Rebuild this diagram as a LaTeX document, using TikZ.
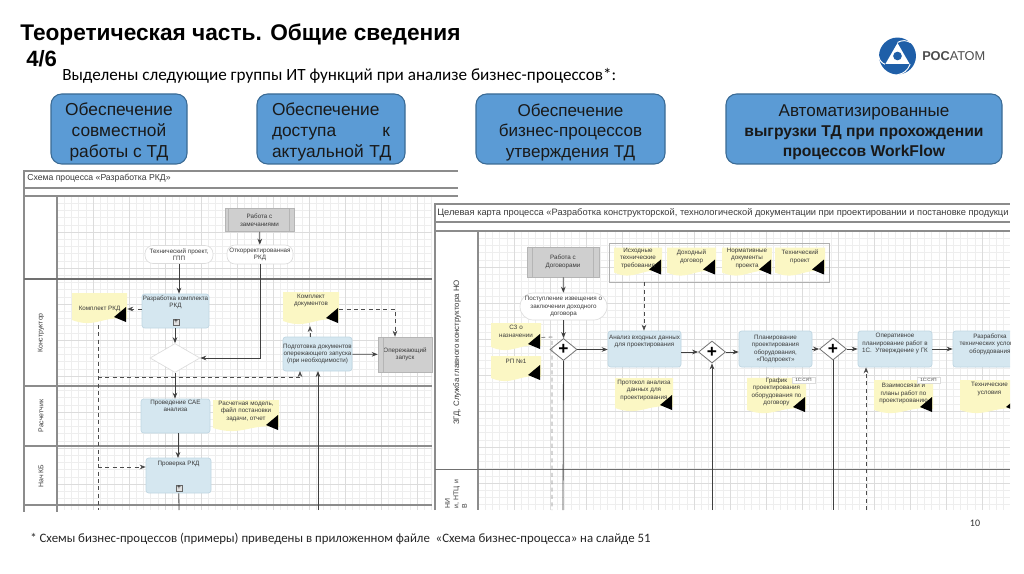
\documentclass[tikz,border=0pt]{standalone}
\usepackage{fontspec}
\setmainfont{Liberation Sans}
\newfontfamily\carlito{Carlito}
\usetikzlibrary{arrows.meta,positioning,shapes.geometric,fit,calc}
\definecolor{rosblue}{HTML}{5B9BD5}
\definecolor{rosedge}{HTML}{3A6A94}
\definecolor{taskfill}{HTML}{D5E7F0}
\definecolor{taskedge}{HTML}{BFD6E2}
\definecolor{docfill}{HTML}{FBF7C4}
\definecolor{cardfill}{HTML}{CFCFCF}
\definecolor{cardedge}{HTML}{B5B5B5}
\definecolor{gridlo}{HTML}{EEEEEE}
\definecolor{gridhi}{HTML}{DCDCDC}
\definecolor{lanegrey}{HTML}{8C8C8C}
\definecolor{inkgrey}{HTML}{3A3A3A}
\definecolor{logoblue}{HTML}{1F5FA8}
\tikzset{
  >={Stealth[length=4.5pt,width=3.5pt]},
  wh/.style 2 args={minimum width=#1*0.75pt,minimum height=#2*0.75pt},
  tiny/.style={font=\fontsize{4.7}{5.6}\selectfont,text=inkgrey,inner sep=0pt,align=center},
  groupbox/.style={draw=rosedge,line width=0.8pt,rounded corners=8pt,fill=rosblue,
                   inner sep=0pt,align=center,font=\fontsize{12.8}{15.4}\selectfont,text=black!90},
  task/.style={tiny,draw=taskedge,line width=0.5pt,rounded corners=2pt,fill=taskfill},
  card/.style={tiny,draw=cardedge,fill=cardfill},
  event/.style={tiny,draw=gridhi,line width=0.5pt,rounded corners=6pt,fill=white},
  docnode/.style={tiny,path picture={
      \fill[docfill] (path picture bounding box.north west) -- (path picture bounding box.north east)
        -- ($(path picture bounding box.south east)+(0,-6)$)
        .. controls ($(path picture bounding box.south)+(4,-10)$) and ($(path picture bounding box.south)+(-4,4)$)
        .. ($(path picture bounding box.south west)+(0,-5)$) -- cycle;
      \fill[black] ($(path picture bounding box.south east)+(-1,-18)$) -- ($(path picture bounding box.south east)+(-1,-3)$)
        -- ($(path picture bounding box.south east)+(-13,-8)$) -- cycle;}},
  gate/.style={draw=black!55,line width=0.6pt,diamond,aspect=1.25,fill=white,inner sep=0pt,wh={27}{22}},
  plus/.style={draw=black!60,line width=0.4pt,fill=black!12,inner sep=0pt,minimum size=4.5pt,
               font=\fontsize{5}{5}\selectfont},
  tag/.style={tiny,draw=gridhi,fill=white,font=\fontsize{3.4}{4}\selectfont},
  flow/.style={->,line width=0.6pt,draw=black!75},
  dashflow/.style={->,line width=0.6pt,draw=black!70,dashed,dash pattern=on 3pt off 2.5pt},
  lane/.style={draw=lanegrey,line width=0.8pt},
  lanelbl/.style={tiny,rotate=90,font=\fontsize{5.2}{6.4}\selectfont},
}

\begin{document}
\begin{tikzpicture}[x=0.75pt,y=-0.75pt]
  \useasboundingbox (0,0) rectangle (1024,574);

  % heading
  \node[anchor=west,inner sep=0pt,font=\bfseries\fontsize{17}{20}\selectfont] (title) at (20,35) {Теоретическая часть. Общие сведения};
  \node[anchor=west,inner sep=0pt,font=\bfseries\fontsize{16.6}{20}\selectfont] (part) at (26,59) {4/6};
  \node[anchor=west,inner sep=0pt,font=\carlito\fontsize{12.85}{15}\selectfont] (lead) at (62,76) {Выделены следующие группы ИТ функций при анализе бизнес-процессов*:};

  % logo
  \node[circle,fill=logoblue,minimum size=27.7pt,inner sep=0pt] (logo) at (897.5,56) {};
  \node[regular polygon,regular polygon sides=3,fill=white,minimum size=21pt,inner sep=0pt] (logotri) at (897.5,57) {};
  \node[circle,fill=logoblue,minimum size=6.5pt,inner sep=0pt] (logodot) at (897.5,56) {};
  \draw[white,line width=0.7pt] (logotri.corner 1) to[bend left=30] (logo.north east);
  \draw[white,line width=0.7pt] (logotri.corner 2) to[bend left=30] (logo.west);
  \draw[white,line width=0.7pt] (logotri.corner 3) to[bend left=30] (logo.south);
  \node[anchor=west,inner sep=0pt,text=black!70,font=\fontsize{9.6}{12}\selectfont] (logotxt) at (922,56) {\textbf{РОС}АТОМ};

  % blue groups
  \node[groupbox,wh={136}{70},font=\fontsize{13}{15.6}\selectfont] (grpa) at (119,129) {\rule{0pt}{14pt}Обеспечение\\совместной\\работы с ТД};
  \node[groupbox,wh={148}{70},font=\fontsize{13}{15.6}\selectfont,text width=88.5pt,align=left] (grpb) at (331,129) {\rule{0pt}{14pt}Обеспечение\\\makebox[88.5pt]{доступа\hfill к}\\\mbox{актуальной ТД}};
  \node[groupbox,wh={189}{70}] (grpc) at (570.5,129) {\rule{0pt}{14pt}Обеспечение\\бизнес-процессов\\утверждения ТД};
  \node[groupbox,wh={276}{70}] (grpd) at (864,129) {\rule{0pt}{14pt}Автоматизированные\\[-0.5pt]\fontsize{11.75}{14.4}\selectfont\textbf{выгрузки ТД при прохождении}\\\fontsize{11.75}{14.4}\selectfont\textbf{процессов WorkFlow}};

  % left chart
  \begin{scope}
    \clip (25,196) rectangle (432,510);
    \foreach \gx in {57,64.2,...,458} \draw[gridlo,line width=0.4pt] (\gx,196) -- (\gx,510);
    \foreach \gy in {196,203.2,...,510} \draw[gridlo,line width=0.4pt] (57,\gy) -- (458,\gy);
    \foreach \gx in {57,93,...,458} \draw[gridhi,line width=0.5pt] (\gx,196) -- (\gx,510);
    \foreach \gy in {196,232,...,510} \draw[gridhi,line width=0.5pt] (57,\gy) -- (458,\gy);
  \end{scope}
  \draw[lanegrey,line width=0.8pt] (24,188) -- (24,171) -- (458,171);
  \draw[lane] (24,188) -- (458,188);
  \draw[lane] (24,196) -- (458,196);
  \draw[lane] (24,188) -- (24,512);
  \draw[lane] (57,196) -- (57,512);
  \draw[lanegrey!80!black,line width=1pt] (24,279) -- (432,279);
  \draw[lane] (24,386) -- (432,386);
  \draw[lane] (24,446) -- (432,446);
  \draw[lane] (24,505) -- (432,505);
  \node[anchor=west,tiny,font=\fontsize{6.5}{8}\selectfont] (lefthead) at (27,178) {Схема процесса «Разработка РКД»};
  \node[lanelbl] (lbcon) at (41,333) {Конструктор};
  \node[lanelbl] (lbras) at (41,416) {Расчетчик};
  \node[lanelbl] (lbnach) at (41,476) {Нач КБ};

  \node[card,wh={69}{23}] (remarks) at (259.5,220) {Работа с\\замечаниями};
  \node[event,wh={66}{19}] (fixed) at (260,254.5) {Откорректированная\\РКД};
  \node[event,wh={68}{18}] (project) at (179,254.5) {Технический проект,\\ГПП};
  \node[docnode,wh={55}{32}] (kitdoc) at (99.5,309) {Комплект РКД};
  \node[task,wh={67}{34}] (develop) at (175.5,311) {Разработка комплекта\\РКД\\[8pt]\ };
  \node[plus] (plusa) at (176,322) {+};
  \node[draw=gridhi,line width=0.5pt,diamond,aspect=1.7,fill=white,inner sep=0pt,wh={50}{29}] (choice) at (175,358) {};
  \node[task,wh={69}{34}] (cae) at (175.5,416) {Проведение САЕ\\анализа\\[10pt]\ };
  \node[docnode,wh={66}{33}] (calcdoc) at (246,416.5) {Расчетная модель,\\файл постановки\\задачи, отчет\\[3pt]\ };
  \node[task,wh={65}{35}] (check) at (178.5,475.5) {Проверка РКД\\[13pt]\ };
  \node[plus] (plusb) at (179,488) {+};
  \node[docnode,wh={56}{34}] (packdoc) at (311,309) {Комплект\\документов\\[8pt]\ };
  \node[task,wh={69}{34}] (prepare) at (317.5,354) {Подготовка документов\\опережающего запуска\\(при необходимости)};
  \node[card,wh={54}{35}] (launch) at (405,354.5) {Опережающий\\запуск};
  \draw[cardedge,line width=0.6pt] (remarks.north west)+(4,0) -- ($(remarks.south west)+(4,0)$);
  \draw[cardedge,line width=0.6pt] (remarks.north east)+(-5,0) -- ($(remarks.south east)+(-5,0)$);
  \draw[cardedge,line width=0.6pt] (launch.north west)+(6,0) -- ($(launch.south west)+(6,0)$);

  \coordinate (bot1) at (98,510);
  \coordinate (bot2) at (179,510);
  \coordinate (bot3) at (318,510);
  \coordinate (dash1) at (98,377);
  \coordinate (dash2) at (98,467);
  \draw[flow] (remarks) -- (fixed);
  \draw[flow] (fixed) |- (choice);
  \draw[flow] (project) -- (project|-develop.north);
  \draw[dashflow] (develop.west|-kitdoc) -- (kitdoc);
  \draw[flow] (develop.south-|choice) -- (choice);
  \draw[flow] (choice) -- (choice|-cae.north);
  \draw[flow] (178,433) -- (178,458);
  \draw[flow,-] (check) -- (bot2);
  \draw[dashflow,-] (98,325) -- (bot1);
  \draw[dashflow] (dash1) -| (300,371);
  \draw[dashflow] (dash2) -- (check.west|-dash2);
  \draw[flow] (bot3) -- (318,371);
  \draw[dashflow] (310,337) -- (310,326);
  \draw[flow] (prepare) -- (launch);
  \draw[dashflow] (packdoc.east) -| (launch.north-|395,0);

  % right chart on top of the left one
  \fill[white] (435,204) rectangle (1010,514);
  \begin{scope}
    \clip (478,231) rectangle (1010,510);
    \foreach \gx in {478,485.2,...,1010} \draw[gridlo,line width=0.4pt] (\gx,231) -- (\gx,510);
    \foreach \gy in {231,238.2,...,510} \draw[gridlo,line width=0.4pt] (478,\gy) -- (1010,\gy);
    \foreach \gx in {478,514,...,1010} \draw[gridhi,line width=0.5pt] (\gx,231) -- (\gx,510);
    \foreach \gy in {231,267,...,510} \draw[gridhi,line width=0.5pt] (478,\gy) -- (1010,\gy);
  \end{scope}
  \draw[lane] (435,510) -- (435,204) -- (1010,204);
  \draw[lane] (435,222) -- (1010,222);
  \draw[lane] (435,231) -- (1010,231);
  \draw[lane] (478,231) -- (478,510);
  \draw[lanegrey!80!black,line width=0.7pt] (435,469) -- (1010,469);
  \node[anchor=west,tiny,font=\fontsize{6.98}{9}\selectfont] (righthead) at (437,213) {Целевая карта процесса «Разработка конструкторской, технологической документации при проектировании и постановке продукци};
  \node[lanelbl,font=\fontsize{5.9}{7}\selectfont] (lbzgd) at (457,352.5) {ЗГД, Служба главного конструктора НО};
  \node[lanelbl,anchor=west,text width=32pt,align=left] (lbniu) at (456,509) {НИ\\и, НТЦ и\\В};

  \node[card,wh={72}{30}] (contracts) at (563,262) {Работа с\\Договорами};
  \draw[cardedge,line width=0.6pt] (contracts.north west)+(6,0) -- ($(contracts.south west)+(6,0)$);
  \draw[cardedge,line width=0.6pt] (contracts.north east)+(-6,0) -- ($(contracts.south east)+(-6,0)$);
  \node[event,wh={87}{27},rounded corners=10pt] (notice) at (563.5,306.5) {Поступление извещения о\\заключении доходного\\договора};
  \node[gate] (gatea) at (563.5,349.5) {};
  \node[font=\bfseries\fontsize{13}{13}\selectfont,inner sep=0pt] (pluse) at (gatea) {+};
  \node[docnode,wh={50}{29}] (memo) at (516,337.5) {СЗ о\\назначении\\[4pt]\ };
  \node[docnode,wh={50}{27}] (rpdoc) at (516,369.5) {РП №1\\[6pt]\ };
  \node[docnode,wh={48}{30}] (reqdoc) at (638,262.5) {Исходные\\технические\\требования\\[2pt]\ };
  \node[docnode,wh={49}{30}] (incdoc) at (691.5,262.5) {Доходный\\договор\\[4pt]\ };
  \node[docnode,wh={50}{30}] (normdoc) at (747,262.5) {Нормативные\\документы\\проекта\\[2pt]\ };
  \node[docnode,wh={50}{30}] (techdoc) at (800,262.5) {Технический\\проект\\[4pt]\ };
  \node[draw=gridhi!80!black,line width=0.6pt,inner sep=3.2pt,fit=(reqdoc)(techdoc)] (inputs) {};
  \node[task,wh={73}{36}] (analyse) at (644.5,349) {Анализ входных данных\\для проектирования\\[7pt]\ };
  \node[gate] (gateb) at (712,352) {};
  \node[font=\bfseries\fontsize{13}{13}\selectfont,inner sep=0pt] (plusf) at (gateb) {+};
  \node[docnode,wh={58}{35}] (protocol) at (644,395.5) {Протокол анализа\\данных для\\проектирования\\[3pt]\ };
  \node[task,wh={73}{36}] (plan) at (775.5,349) {Планирование\\проектирования\\оборудования,\\«Подпроект»};
  \node[docnode,wh={59}{37}] (schedule) at (776.5,396.5) {График\\проектирования\\оборудования по\\договору\\[2pt]\ };
  \node[tag,wh={23}{6}] (taga) at (803.5,380) {1С:СУП};
  \node[gate] (gatec) at (833,349) {};
  \node[font=\bfseries\fontsize{13}{13}\selectfont,inner sep=0pt] (plusg) at (gatec) {+};
  \node[task,wh={74}{36}] (oper) at (895,349) {Оперативное\\планирование работ в\\1С.\ \ Утверждение у ГК\\[3pt]\ };
  \node[docnode,wh={59}{35}] (links) at (903.5,397.5) {Взаимосвязи и\\планы работ по\\проектированию\\[1pt]\ };
  \node[tag,wh={23}{6}] (tagb) at (928.5,380) {1С:СУП};
  \begin{scope}
    \clip (940,320) rectangle (1010,420);
    \node[task,wh={74}{36}] (design) at (990,349) {Разработка\\технических условий\\оборудования\\[3pt]\ };
    \node[docnode,wh={59}{35}] (terms) at (989.5,397.5) {Технические\\условия\\[8pt]\ };
  \end{scope}

  \coordinate (rbot1) at (563,510);
  \coordinate (rbot2) at (552,510);
  \coordinate (rbot3) at (712,510);
  \coordinate (rbot4) at (833,510);
  \coordinate (rbot5) at (866,510);
  \draw[flow] (contracts) -- (notice);
  \draw[flow] (notice) -- (gatea);
  \draw[flow] (gatea) -- (analyse.west|-gatea);
  \draw[flow,-] (gatea) -- (rbot1);
  \draw[dashflow,-,draw=black!45] (memo.east) -- (552,337) -- (rbot2);
  \draw[dashflow] (inputs.south-|644,0) -- (analyse.north-|644,0);
  \draw[flow] (analyse.east|-gateb) -- (gateb);
  \draw[flow] (gateb) -- (plan.west|-gateb);
  \draw[flow] (rbot3) -- (gateb);
  \draw[flow] (plan.east|-gatec) -- (gatec);
  \draw[flow] (gatec) -- (oper);
  \draw[flow,-] (gatec) -- (rbot4);
  \draw[flow] (oper) -- (design);
  \draw[dashflow] (rbot5) -- (rbot5|-oper.south);

  % footer
  \node[inner sep=0pt,font=\carlito\fontsize{7.5}{9}\selectfont,text=black!80] (pageno) at (975,523) {10};
  \node[anchor=west,inner sep=0pt,font=\carlito\fontsize{9.63}{12}\selectfont,text=black!85] (footnote) at (30,539) {* Схемы бизнес-процессов (примеры) приведены в приложенном файле\ \ «Схема бизнес-процесса» на слайде 51};
\end{tikzpicture}
\end{document}
